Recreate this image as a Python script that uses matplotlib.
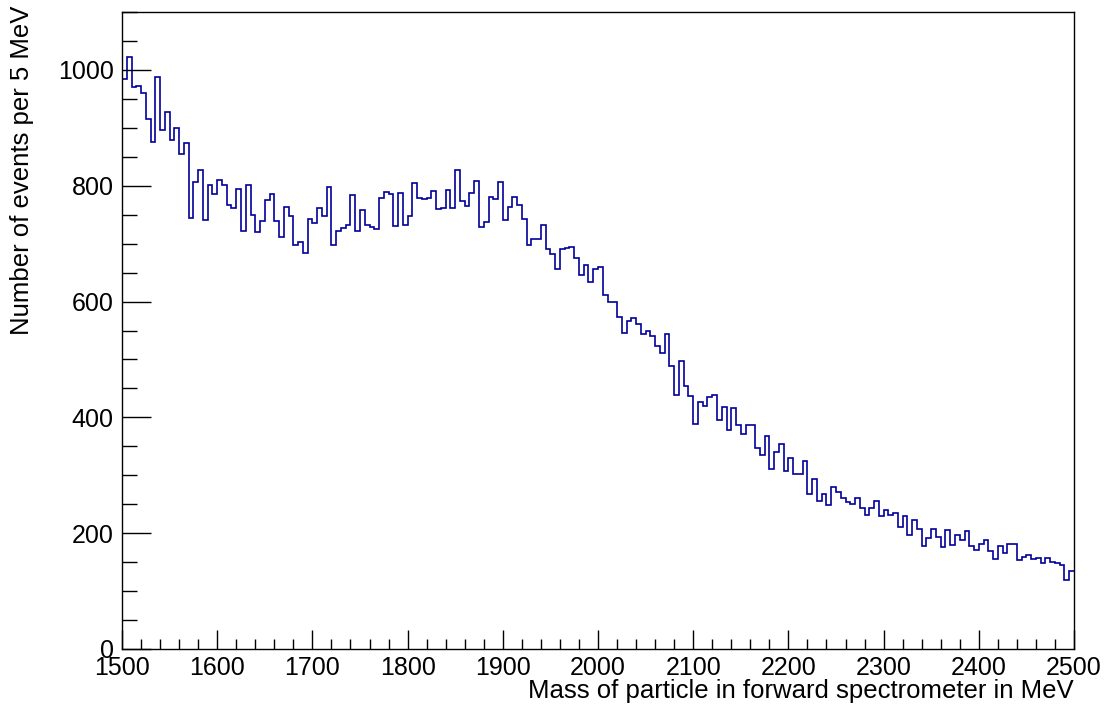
import numpy as np
import matplotlib
matplotlib.use("Agg")
import matplotlib.pyplot as plt
from matplotlib.ticker import MultipleLocator

bin_lo = 1500
bin_width = 5
counts = [
    984, 1023, 970, 973, 960, 915, 876, 987, 896, 928,
    879, 900, 855, 873, 745, 807, 828, 741, 801, 786,
    810, 801, 767, 761, 794, 722, 802, 749, 720, 739,
    775, 785, 739, 712, 763, 748, 697, 702, 683, 742,
    736, 761, 748, 798, 698, 722, 727, 733, 784, 721,
    758, 732, 728, 725, 779, 789, 785, 731, 788, 733,
    748, 805, 779, 777, 778, 791, 760, 762, 792, 762,
    828, 774, 765, 788, 808, 728, 738, 781, 777, 806,
    740, 763, 781, 766, 743, 698, 708, 708, 733, 691,
    682, 657, 691, 693, 694, 676, 646, 663, 633, 657,
    660, 612, 599, 599, 573, 546, 567, 572, 561, 544,
    550, 540, 523, 512, 544, 489, 439, 497, 455, 437,
    389, 427, 420, 436, 439, 396, 418, 378, 416, 386,
    372, 386, 386, 347, 335, 367, 310, 340, 354, 308,
    330, 303, 302, 324, 268, 294, 256, 268, 249, 280,
    271, 260, 253, 251, 260, 244, 232, 244, 256, 230,
    240, 231, 234, 211, 230, 196, 222, 208, 178, 191,
    207, 194, 176, 206, 179, 196, 189, 204, 178, 171,
    181, 188, 169, 155, 178, 166, 181, 181, 154, 159,
    162, 156, 157, 148, 158, 151, 148, 145, 120, 135,
]
xlabel = "Mass of particle in forward spectrometer in MeV"
ylabel = "Number of events per 5 MeV"

plt.rcParams['font.family'] = ['Liberation Sans', 'DejaVu Sans']

fig = plt.figure(figsize=(11.05, 7.04), dpi=100)
ax = fig.add_axes([122/1105, 1-649/704, (1074-122)/1105, (649-12)/704])

edges = bin_lo + bin_width*np.arange(len(counts)+1)
ax.stairs(counts, edges, color='#000099', linewidth=1.2, baseline=None)

ax.set_xlim(1500, 2500)
ax.set_ylim(0, 1100)
ax.xaxis.set_major_locator(MultipleLocator(100))
ax.xaxis.set_minor_locator(MultipleLocator(20))
ax.yaxis.set_major_locator(MultipleLocator(200))
ax.yaxis.set_minor_locator(MultipleLocator(50))

ax.tick_params(axis='x', which='major', direction='in', length=14, width=1, labelsize=18, pad=5, top=False)
ax.tick_params(axis='x', which='minor', direction='in', length=7, width=1, top=False)
ax.tick_params(axis='y', which='major', direction='in', length=21, width=1, labelsize=18, pad=6, right=False)
ax.tick_params(axis='y', which='minor', direction='in', length=10.5, width=1, right=False)
for s in ax.spines.values():
    s.set_linewidth(1.0)

ax.set_xlabel(xlabel, fontsize=18.5, ha='right', va='top')
ax.xaxis.set_label_coords(1.0, -0.047)
fig.text(22/1105, 1-6/704, ylabel, rotation=90, ha='center', va='top', fontsize=18.5)

fig.savefig("out.png", dpi=100)
